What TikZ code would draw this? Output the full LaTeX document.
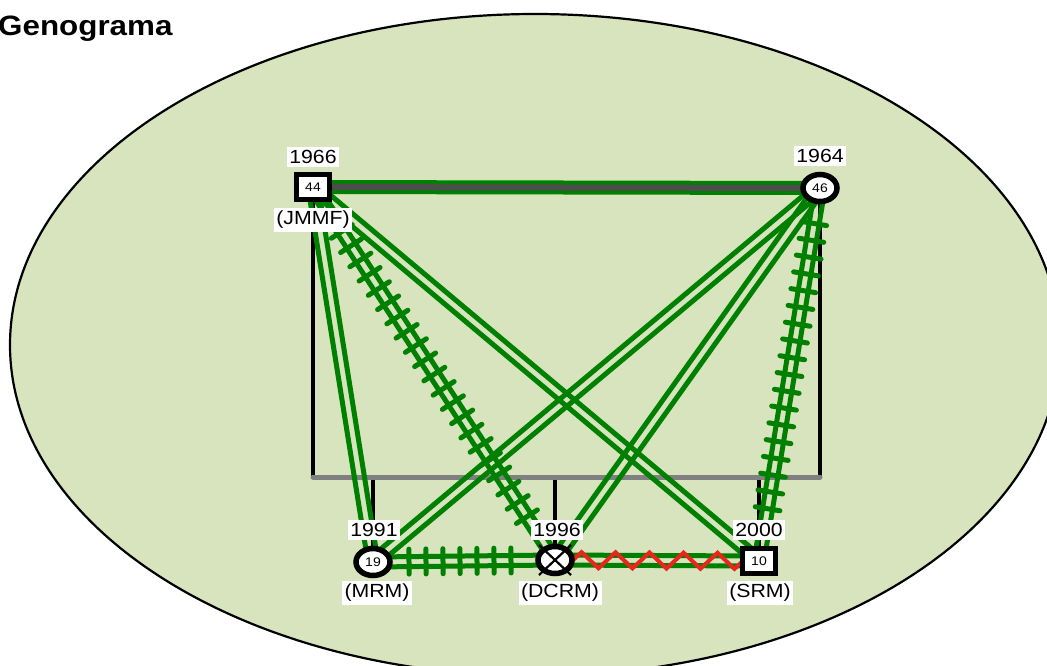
\documentclass[tikz,border=0pt]{standalone}
\usepackage{fontspec}
\setmainfont{Liberation Sans}
\usetikzlibrary{calc,shapes.geometric,decorations.markings,decorations.pathmorphing}
\definecolor{bgc}{HTML}{D7E4BD}
\definecolor{gr}{HTML}{008000}
\definecolor{rd}{HTML}{E8261D}
\definecolor{dg}{HTML}{4D4D4D}
\definecolor{lg}{HTML}{808080}
\pgfdeclarelayer{back}
\pgfdeclarelayer{links}
\pgfsetlayers{back,links,main}
\newcommand\sx[1]{\scalebox{1.12}[1]{#1}}
\newcommand\dbl[3][]{%
  \draw[rel,#1] ($(#2.center)!5pt!90:(#3.center)$) -- ($(#3.center)!5pt!-90:(#2.center)$);
  \draw[rel,#1] ($(#2.center)!5pt!-90:(#3.center)$) -- ($(#3.center)!5pt!90:(#2.center)$);}
\newcommand\hatch[2]{%
  \path[postaction={decorate}, decoration={markings,
    mark=between positions 36pt and -36pt step 17pt with {\draw[gr,line width=5pt,line cap=round] (0pt,-12.5pt) -- (0pt,12.5pt);}}]
    (#1.center) -- (#2.center);}
\begin{document}
\begin{tikzpicture}[x=1pt,y=-1pt,
  male/.style={draw=black, line width=5.5pt, fill=white, rectangle, minimum width=33pt, minimum height=25pt, inner sep=0pt, font=\fontsize{12.5}{12.5}\selectfont},
  female/.style={draw=black, line width=5.5pt, fill=white, ellipse, minimum width=34pt, minimum height=27pt, inner sep=0pt, font=\fontsize{12.5}{12.5}\selectfont},
  lab/.style={fill=white, inner xsep=2.5pt, inner ysep=3pt, font=\fontsize{19}{19}\selectfont},
  rel/.style={gr, line width=5pt},
  ped/.style={black, line width=4.5pt}]
\useasboundingbox (0,0) rectangle (1047,665);
\begin{pgfonlayer}{back}
  \draw[fill=bgc, line width=2.2pt] (535,345) ellipse [x radius=525, y radius=331];
\end{pgfonlayer}

% persons
\node[male]   (JMMF) at (313,187) {\sx{44}};
\node[female] (F46)  at (820,188) {\sx{46}};
\node[female] (MRM)  at (373,562) {\sx{19}};
\node[female] (DCRM) at (555,560) {};
\node[male]   (SRM)  at (759,561) {\sx{10}};
\draw[line width=2.2pt] (DCRM.center) ++(-16,-15) -- ++(32,30);
\draw[line width=2.2pt] (DCRM.center) ++(16,-15) -- ++(-32,30);

\coordinate (sibL) at (JMMF |- 0,477);
\coordinate (sibR) at (F46 |- 0,477);

\begin{pgfonlayer}{links}
  % pedigree
  \draw[ped] (JMMF) -- (sibL);
  \draw[ped] (F46) -- (sibR);
  \draw[ped] (MRM |- sibL) -- (MRM);
  \draw[ped] (DCRM |- sibL) -- (DCRM);
  \draw[ped] (SRM |- sibL) -- (SRM);
  \draw[lg, line width=5pt, line cap=round] (sibL) -- (sibR);
  % marriage
  \draw[gr, line width=14pt] (JMMF.center) -- (F46.center);
  \draw[dg, line width=6pt] (JMMF.center) -- (F46.center);
  % emotional relations
  \dbl{JMMF}{MRM}
  \dbl{JMMF}{DCRM}
  \hatch{JMMF}{DCRM}
  \dbl{JMMF}{SRM}
  \dbl{F46}{MRM}
  \dbl{F46}{DCRM}
  \dbl{F46}{SRM}
  \hatch{F46}{SRM}
  \dbl{MRM}{DCRM}
  \hatch{MRM}{DCRM}
  \dbl{DCRM}{SRM}
  \draw[rd, line width=4pt, decorate, decoration={zigzag, amplitude=8pt, segment length=34pt, pre length=18pt, post length=16pt}] (DCRM.center) -- (SRM.center);
\end{pgfonlayer}

% labels
\node[lab] (yJMMF) at (313,157) {\sx{1966}};
\node[lab] (nJMMF) at (313,220) {\sx{(JMMF)}};
\node[lab] (yF46)  at (820,156) {\sx{1964}};
\node[lab] (yMRM)  at (374,530) {\sx{1991}};
\node[lab] (nMRM)  at (377,593) {\sx{(MRM)}};
\node[lab] (yDCRM) at (557,530) {\sx{1996}};
\node[lab] (nDCRM) at (560,593) {\sx{(DCRM)}};
\node[lab] (ySRM)  at (759,530) {\sx{2000}};
\node[lab] (nSRM)  at (760,593) {\sx{(SRM)}};

\node[anchor=base west, inner sep=0pt, font=\bfseries\fontsize{28}{28}\selectfont] (title) at (-2,35) {\sx{Genograma}};
\end{tikzpicture}
\end{document}
